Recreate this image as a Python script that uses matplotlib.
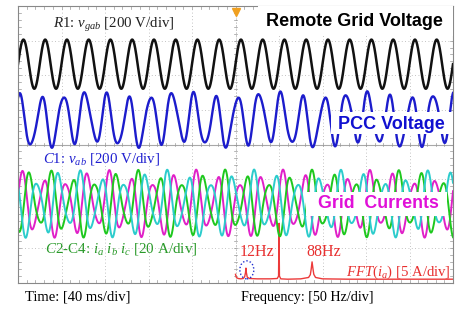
import numpy as np
import matplotlib
matplotlib.use("Agg")
from matplotlib import pyplot as plt
from matplotlib.patches import Rectangle, Ellipse

# scope settings
ms_per_div = 40.0
hz_per_div = 50.0
n_div_x, n_div_y = 10, 8

# waveform components: (freq Hz, amplitude div, phase deg)
grid_v_offset = 6.32
grid_v_parts = [(50, 0.71, 0)]

pcc_v_offset = 4.72
pcc_v_parts = [(50, 0.7, 57), (12, 0.1, 200), (88, 0.11, 40)]

cur_offset = 2.29
cur_parts = [(50, 0.76, 20), (12, 0.1, 120), (88, 0.13, 300)]
phase_shift = [0, -120, 120]
cur_colors = ["#e020c8", "#1ec81e", "#2ccccc"]

# FFT(ia) trace, frequency in Hz, height in div
fft_freq = [0, 1, 3, 6, 9, 10.5, 11.5, 12, 12.5, 13.5, 16, 25, 40, 48, 49.5, 50, 50.5, 52,
            60, 75, 84, 86, 87, 88, 89, 90, 92, 100, 130, 180, 250]
fft_amp = [0.25, 0.16, 0.13, 0.12, 0.13, 0.18, 0.3, 0.43, 0.3, 0.17, 0.13, 0.12, 0.12, 0.13,
           0.2, 1.72, 0.2, 0.12, 0.11, 0.12, 0.16, 0.24, 0.4, 0.61, 0.42, 0.25, 0.16, 0.12,
           0.11, 0.11, 0.11]


def wave(t, offset, parts, shift=0):
    y = np.full_like(t, offset)
    for f, a, ph in parts:
        y += a * np.sin(2 * np.pi * f * t + np.deg2rad(ph + shift))
    return y


t = np.linspace(0, n_div_x * ms_per_div / 1000, 6000)
x = t * 1000 / ms_per_div

plt.rcParams["mathtext.fontset"] = "custom"
plt.rcParams["mathtext.rm"] = "Liberation Serif"
plt.rcParams["mathtext.it"] = "Liberation Serif:italic"
serif = "Liberation Serif"
sans = "Liberation Sans"

fig = plt.figure(figsize=(4.57, 3.11), dpi=100)
ax = fig.add_axes([18 / 457, 1 - 283 / 311, 435 / 457, 277 / 311])
ax.set_xlim(0, n_div_x)
ax.set_ylim(0, n_div_y)
ax.set_xticks([])
ax.set_yticks([])
for s in ax.spines.values():
    s.set_color("#888888")
    s.set_linewidth(0.8)

# graticule
for i in range(1, n_div_x):
    ax.axvline(i, color="#b0b0b0", lw=0.6, ls=(0, (1, 3)), zorder=0)
for j in range(1, n_div_y):
    ax.axhline(j, color="#b0b0b0", lw=0.6, ls=(0, (1, 3)), zorder=0)
ax.axhline(4, color="#a8a8a8", lw=0.8, zorder=0)
ax.axvline(5, color="#b0b0b0", lw=0.6, ls=(0, (1, 2)), zorder=0)
minor_x = np.arange(0, n_div_x + 0.01, 0.2)
minor_y = np.arange(0, n_div_y + 0.01, 0.2)
for xm in minor_x:
    ax.plot([xm, xm], [n_div_y, n_div_y - 0.08], color="#999999", lw=0.5, zorder=0)
    ax.plot([xm, xm], [0, 0.08], color="#999999", lw=0.5, zorder=0)
    ax.plot([xm, xm], [3.95, 4.05], color="#999999", lw=0.5, zorder=0)
for ym in minor_y:
    ax.plot([0, 0.06], [ym, ym], color="#999999", lw=0.5, zorder=0)
    ax.plot([n_div_x, n_div_x - 0.06], [ym, ym], color="#999999", lw=0.5, zorder=0)
    ax.plot([4.96, 5.04], [ym, ym], color="#999999", lw=0.5, zorder=0)

# FFT trace on the right half
fft_x = 5 + np.array(fft_freq) / hz_per_div
ax.plot(fft_x, fft_amp, color="#ec3a3a", lw=1.0, zorder=1)
ax.add_patch(Ellipse((5.26, 0.38), 0.32, 0.52, fill=False, ec="#2030d0", lw=1.0,
                     ls=(0, (1, 1.5)), zorder=3))

# time traces
ax.plot(x, wave(t, grid_v_offset, grid_v_parts), color="#111111", lw=1.8, zorder=2)
ax.plot(x, wave(t, pcc_v_offset, pcc_v_parts), color="#1c1ccc", lw=1.7, zorder=2)
for sh, c in zip(phase_shift, cur_colors):
    ax.plot(x, wave(t, cur_offset, cur_parts, sh), color=c, lw=1.4, zorder=2)

# trigger marker
ax.plot(5, 7.82, marker="v", color="#f0a020", ms=6, zorder=5, clip_on=False)

# white label boxes
ax.add_patch(Rectangle((5.52, 7.13), 4.48, 0.87, fc="white", ec="none", zorder=4))
ax.add_patch(Rectangle((7.2, 4.29), 2.8, 0.64, fc="white", ec="none", zorder=4))
ax.add_patch(Rectangle((6.62, 1.94), 3.24, 0.70, fc="white", ec="none", zorder=4))

ax.text(5.7, 7.54, "Remote Grid Voltage", fontsize=13, fontweight="bold", family=sans,
        color="black", va="center", ha="left", zorder=5)
ax.text(7.36, 4.58, "PCC Voltage", fontsize=13, fontweight="bold", family=sans,
        color="#1010d0", va="center", ha="left", zorder=5)
ax.text(6.9, 2.29, "Grid  Currents", fontsize=12.8, fontweight="bold", family=sans,
        color="#e010d8", va="center", ha="left", zorder=5)

ax.text(0.8, 7.45, r"$R$1: $v_{gab}$ [200 V/div]", fontsize=10.7, family=serif,
        color="#222222", va="center", ha="left", zorder=5)
ax.text(0.57, 3.57, r"$C$1: $v_{ab}$ [200 V/div]", fontsize=10.7, family=serif,
        color="#2020d0", va="center", ha="left", zorder=5)
ax.text(0.62, 0.99, r"$C$2-C4: $i_a\ i_b\ i_c$ [20 A/div]", fontsize=10.9, family=serif,
        color="#2a9a2a", va="center", ha="left", zorder=5)
ax.text(5.1, 0.9, "12Hz", fontsize=11.5, family=serif, color="#e83030",
        va="center", ha="left", zorder=5)
ax.text(6.62, 0.9, "88Hz", fontsize=11.5, family=serif, color="#e83030",
        va="center", ha="left", zorder=5)
ax.text(9.95, 0.32, r"$FFT(i_a)$ [5 A/div]", fontsize=10.6, family=serif, color="#e83030",
        va="center", ha="right", zorder=5)

fig.text(25 / 457, 1 - 297 / 311, "Time: [40 ms/div]", fontsize=10.5, family=serif,
         va="center", ha="left")
fig.text(241 / 457, 1 - 298 / 311, "Frequency: [50 Hz/div]", fontsize=10.2, family=serif,
         va="center", ha="left")

fig.savefig("out.png", dpi=100)
